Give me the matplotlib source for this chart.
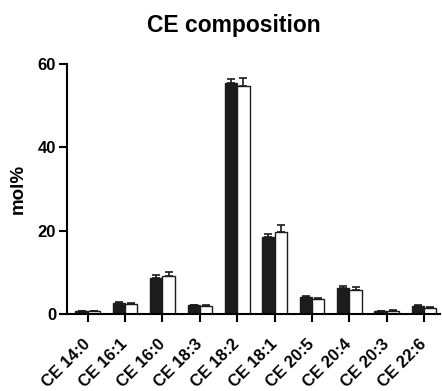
import matplotlib as mpl
import matplotlib.pyplot as plt
import numpy as np

mpl.rcParams['font.family'] = ['Liberation Sans', 'DejaVu Sans']
mpl.rcParams['font.weight'] = 'bold'

species = ['CE 14:0', 'CE 16:1', 'CE 16:0', 'CE 18:3', 'CE 18:2',
           'CE 18:1', 'CE 20:5', 'CE 20:4', 'CE 20:3', 'CE 22:6']
black_vals = [0.65, 2.6, 8.7, 2.1, 55.4, 18.4, 4.0, 6.25, 0.7, 1.85]
black_err = [0.1, 0.2, 0.6, 0.15, 1.1, 0.8, 0.2, 0.5, 0.1, 0.2]
white_vals = [0.6, 2.5, 9.0, 1.95, 54.7, 19.8, 3.6, 5.8, 0.8, 1.5]
white_err = [0.1, 0.2, 1.0, 0.1, 1.9, 1.6, 0.2, 0.6, 0.1, 0.15]

fig = plt.figure(figsize=(4.42, 3.91), dpi=100)
ax = fig.add_axes([0.152, 0.197, 0.843, 0.639])

x = np.arange(len(species))
w = 0.33
ax.bar(x - w / 2, black_vals, w, color='#1c1c1c', edgecolor='#1c1c1c',
       linewidth=1, yerr=[np.zeros(len(x)), black_err],
       error_kw=dict(ecolor='#1c1c1c', elinewidth=1.2, capsize=3, capthick=1.2))
ax.bar(x + w / 2, white_vals, w, color='white', edgecolor='#1c1c1c',
       linewidth=1, yerr=[np.zeros(len(x)), white_err],
       error_kw=dict(ecolor='#1c1c1c', elinewidth=1.2, capsize=3, capthick=1.2))

ax.set_xlim(-0.55, 9.42)
ax.set_ylim(0, 60)
ax.set_yticks([0, 20, 40, 60])
ax.set_xticks(x)
ax.set_xticklabels(species, rotation=45, ha='right', va='center',
                   rotation_mode='anchor', fontsize=12, fontweight='bold')
ax.tick_params(axis='y', labelsize=12, width=1.5, length=6, direction='out', pad=2)
ax.tick_params(axis='x', width=1.5, length=6, direction='out', pad=14)
for s in ['top', 'right']:
    ax.spines[s].set_visible(False)
for s in ['left', 'bottom']:
    ax.spines[s].set_linewidth(1.5)
ax.set_ylabel('mol%', fontsize=13.5, fontweight='bold', labelpad=8)
fig.text(0.53, 0.936, 'CE composition', ha='center', va='center',
         fontsize=16.5, fontweight='bold')

plt.savefig('out.png', dpi=100)
